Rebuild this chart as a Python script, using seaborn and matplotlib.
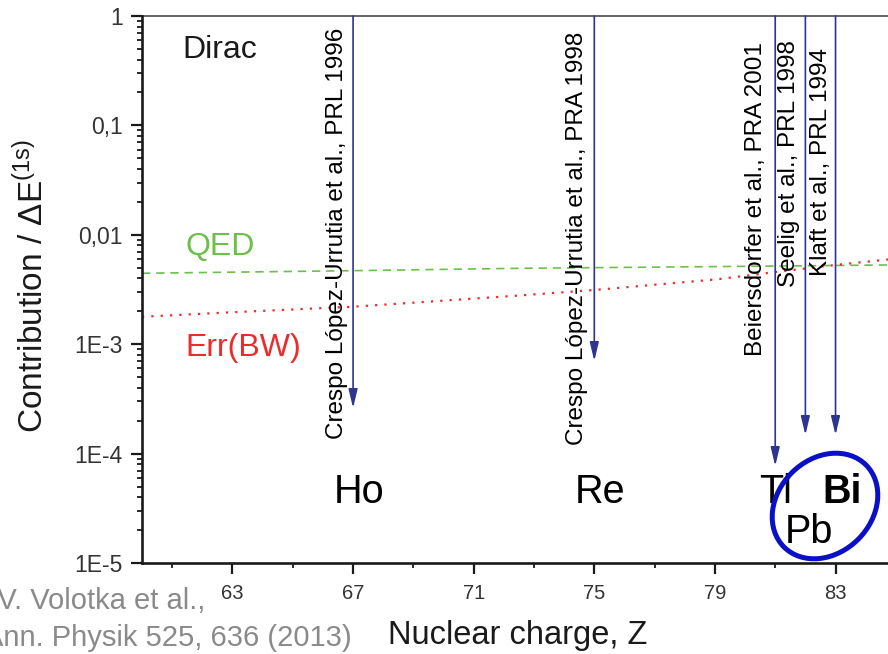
import numpy as np
import pandas as pd
import matplotlib
matplotlib.use("Agg")
import matplotlib.pyplot as plt
import seaborn as sns
from matplotlib.patches import Ellipse
from matplotlib.transforms import IdentityTransform
from matplotlib.ticker import FixedLocator, NullFormatter, LogLocator

# ---------------- data ----------------
z_dirac = [60, 86]
dirac = [1.0, 1.0]

z_qed = [60, 67, 72.5, 79, 84.8]
qed = [0.00445, 0.00470, 0.00494, 0.00512, 0.00530]

z_bw = [60, 63, 67, 72.3, 75, 79, 81.1, 83, 84.8]
err_bw = [0.00178, 0.00196, 0.00220, 0.00276, 0.00313, 0.00390, 0.00460, 0.00530, 0.00597]

elements = ["Ho", "Re", "Tl", "Pb", "Bi"]
element_z = [67, 75, 81, 82, 83]
arrow_tip = [2.61e-4, 7.02e-4, 7.7e-5, 1.48e-4, 1.48e-4]
refs = ["Crespo López-Urrutia et al., PRL 1996",
        "Crespo López-Urrutia et al., PRA 1998",
        "Beiersdorfer et al., PRA 2001",
        "Seelig et al., PRL 1998",
        "Klaft et al., PRL 1994"]

x_ticks = [63, 67, 71, 75, 79, 83]
x_minor = [61, 65, 69, 73, 77, 81]
y_ticks = [1e-5, 1e-4, 1e-3, 1e-2, 1e-1, 1]
y_ticklabels = ["1E-5", "1E-4", "1E-3", "0,01", "0,1", "1"]

# ---------------- style ----------------
sns.set_theme(style="ticks")
plt.rcParams["font.family"] = ["Liberation Sans", "DejaVu Sans"]
plt.rcParams["mathtext.fontset"] = "custom"
plt.rcParams["mathtext.rm"] = "Liberation Sans"
plt.rcParams["mathtext.it"] = "Liberation Sans:italic"

W, H = 888, 654
fig = plt.figure(figsize=(W / 100, H / 100), dpi=100)
ax = fig.add_axes([142 / W, 1 - 563 / H, (W - 142) / W, 547 / H])

GREEN = "#6cc04a"
RED = "#ee2a2a"
NAVY = "#2e3490"

sns.lineplot(x=z_dirac, y=dirac, ax=ax, color="#4a4a4a", lw=1.2, clip_on=False)
sns.lineplot(x=z_qed, y=qed, ax=ax, color=GREEN, lw=1.2, linestyle=(0, (5, 3.5)))
sns.lineplot(x=z_bw, y=err_bw, ax=ax, color=RED, lw=1.6, linestyle=(0, (1, 3.2)))

ax.set_yscale("log")
ax.set_ylim(1e-5, 1)
ax.set_xlim(60, 84.74)

# arrows
for z, tip in zip(element_z, arrow_tip):
    ax.annotate("", xy=(z, tip), xytext=(z, 1.0),
                arrowprops=dict(arrowstyle="-|>,head_length=0.75,head_width=0.18",
                                color=NAVY, lw=1.2, shrinkA=0, shrinkB=0,
                                mutation_scale=15), annotation_clip=False)

# reference texts
ref_offsets = [(-11.5, -8.6), (-12.2, -11.5), (-13.7, -18.7), (-11.5, -17.3), (-10.8, -23)]
for z, txt, off in zip(element_z, refs, ref_offsets):
    ax.annotate(txt, xy=(z, 1.0), xytext=off, textcoords="offset points",
                rotation=90, ha="center", va="top", fontsize=17.5, color="black")

# element labels
el_off = [(0.2, 3.53e-5), (0.2, 3.53e-5), (0.0, 3.53e-5), (0.13, 1.52e-5), (0.2, 3.53e-5)]
for name, z, (dz, yb) in zip(elements, element_z, el_off):
    ax.text(z + dz, yb, name, ha="center", va="baseline", fontsize=28.5,
            color="black", fontweight="bold" if name == "Bi" else "normal")

# series labels
ax.text(61.35, 0.413, "Dirac", ha="left", va="baseline", fontsize=23, color="#1a1a1a")
ax.text(61.45, 0.00653, "QED", ha="left", va="baseline", fontsize=23, color=GREEN)
ax.text(61.45, 7.8e-4, "Err(BW)", ha="left", va="baseline", fontsize=23, color=RED)

# ellipse around Pb/Bi
ell = Ellipse((825, H - 506), 116, 94, angle=45, fill=False, edgecolor="#0a10c8",
              lw=3.6, transform=IdentityTransform(), clip_on=False)
fig.add_artist(ell)

# axes styling
for s in ["top", "right"]:
    ax.spines[s].set_visible(False)
for s in ["left", "bottom"]:
    ax.spines[s].set_color("#1a1a1a")
    ax.spines[s].set_linewidth(1.9)

ax.xaxis.set_major_locator(FixedLocator(x_ticks))
ax.xaxis.set_minor_locator(FixedLocator(x_minor))
ax.set_xticklabels([str(t) for t in x_ticks])
ax.yaxis.set_major_locator(FixedLocator(y_ticks))
ax.set_yticklabels(y_ticklabels)
ax.yaxis.set_minor_locator(LogLocator(base=10, subs=np.arange(2, 10)))
ax.yaxis.set_minor_formatter(NullFormatter())

ax.tick_params(axis="both", which="both", left=True, bottom=True, right=False, top=False)
ax.tick_params(axis="both", which="major", direction="out", length=8, width=1.6,
               color="#1a1a1a", labelcolor="#333333")
ax.tick_params(axis="both", which="minor", direction="out", length=3.8, width=1.3,
               color="#1a1a1a")
ax.tick_params(axis="x", which="major", labelsize=14.5, pad=7)
ax.tick_params(axis="y", which="major", labelsize=16.5, pad=6)

ax.set_xlabel("Nuclear charge, Z", fontsize=23.5, color="#1a1a1a")
ax.xaxis.set_label_coords((518 - 142) / 746, (563 - 620) / 547)
ax.xaxis.label.set_va("top")
ax.set_ylabel("Contribution / $\\Delta$E$^{\\mathrm{(1s)}}$", fontsize=24, color="#1a1a1a")
ax.yaxis.set_label_coords((50 - 142) / 746, 0.506)

# citation
fig.text(205 / W, 1 - 609 / H, "A.V. Volotka et al.,", ha="right", va="baseline",
         fontsize=21, color="#8a8a8a")
fig.text(352 / W, 1 - 646 / H, "Ann. Physik 525, 636 (2013)", ha="right", va="baseline",
         fontsize=21, color="#8a8a8a")

ax.set_facecolor("white")
fig.patch.set_facecolor("white")
fig.savefig("out.png", dpi=100)
